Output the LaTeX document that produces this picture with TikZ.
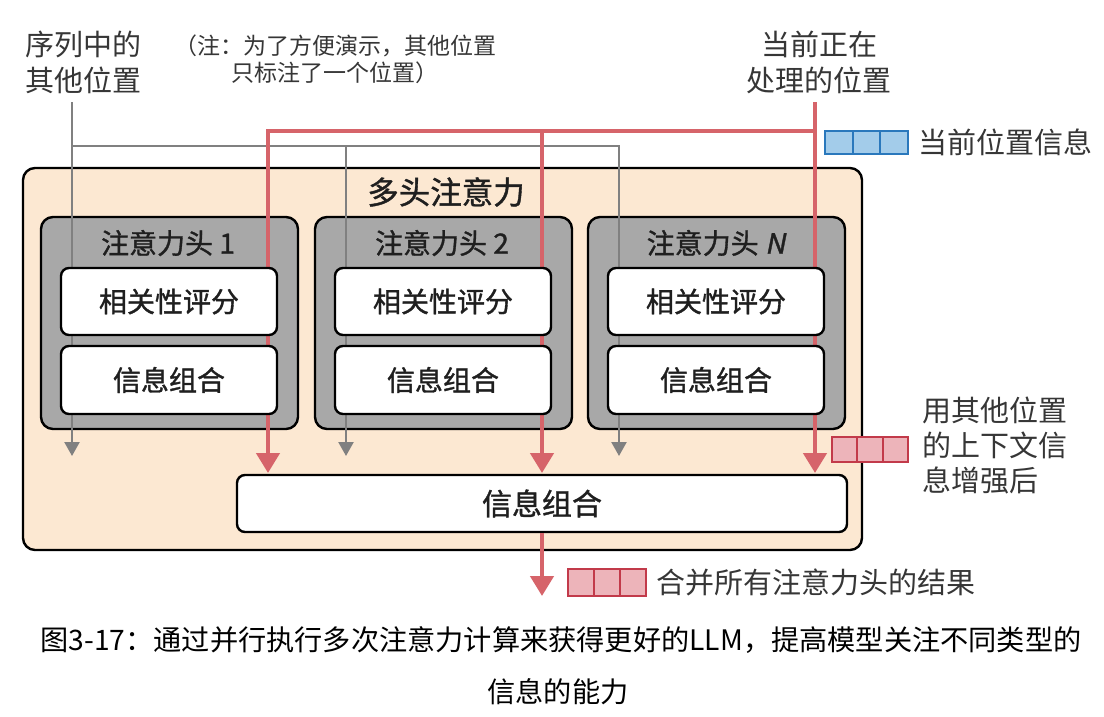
\documentclass[tikz,border=0pt]{standalone}
\usepackage{fontspec}
\setmainfont{Noto Sans CJK SC}
\newfontfamily\medfont[FakeBold=1.2]{Noto Sans CJK SC}
\newfontfamily\slantfont[FakeSlant=0.2,FakeBold=1.2]{Noto Sans CJK SC}
\usetikzlibrary{arrows.meta}
\definecolor{peach}{HTML}{FCE8D2}
\definecolor{headgray}{HTML}{A8A8A8}
\definecolor{redl}{HTML}{D6646A}
\definecolor{grayl}{HTML}{808080}
\definecolor{bluefill}{HTML}{A3CCEA}
\definecolor{blueedge}{HTML}{2A78BC}
\definecolor{redfill}{HTML}{EDB4BA}
\definecolor{rededge}{HTML}{C23A4A}
\definecolor{labelc}{HTML}{363636}
\pgfdeclarelayer{back}
\pgfdeclarelayer{mid}
\pgfsetlayers{back,mid,main}
\tikzset{
  outerbox/.style={draw=black, line width=2.4pt, fill=peach, rounded corners=12pt, inner sep=0pt},
  headbox/.style={draw=black, line width=2.4pt, fill=headgray, rounded corners=12pt, inner sep=0pt, minimum width=257pt, minimum height=212pt},
  whitebox/.style={draw=black, line width=2.4pt, fill=white, rounded corners=8pt, inner sep=0pt, minimum width=216pt, font=\medfont\fontsize{28}{30}\selectfont, text=black!88},
  headtitle/.style={font=\medfont\fontsize{28}{30}\selectfont, text=black!88},
  lab/.style={text=labelc, align=center, inner sep=0pt},
  gline/.style={draw=grayl, line width=2.4pt, -{Triangle[width=15pt,length=14pt]}},
  rline/.style={draw=redl, line width=4.5pt, -{Triangle[width=23pt,length=20pt]}},
  bcell/.style={draw=blueedge, fill=bluefill, line width=2pt},
  rcell/.style={draw=rededge, fill=redfill, line width=2pt},
}
\begin{document}
\begin{tikzpicture}[x=1pt,y=-1pt]
\useasboundingbox (0,0) rectangle (1104,716);
% containers
\begin{pgfonlayer}{back}
\node[outerbox, minimum width=839pt, minimum height=382pt] (outer) at (442.5,359) {};
\node[headbox] (h1) at (169.5,323) {};
\node[headbox] (h2) at (443.5,323) {};
\node[headbox] (h3) at (716.5,323) {};
\end{pgfonlayer}
\node[headtitle, font=\medfont\fontsize{31.5}{33}\selectfont] (t0) at (446,192) {多头注意力};
\node[headtitle] (t1) at (168,243) {注意力头 1};
\node[headtitle] (t2) at (442,243) {注意力头 2};
\node[headtitle] (t3) at (716,243) {注意力头 {\slantfont N}};
% inner boxes
\node[whitebox, minimum height=67pt] (s1) at (169,301.5) {相关性评分};
\node[whitebox, minimum height=67pt] (s2) at (443,301.5) {相关性评分};
\node[whitebox, minimum height=67pt] (s3) at (716,301.5) {相关性评分};
\node[whitebox, minimum height=68pt] (c1) at (169,380) {信息组合};
\node[whitebox, minimum height=68pt] (c2) at (443,380) {信息组合};
\node[whitebox, minimum height=68pt] (c3) at (716,380) {信息组合};
\node[whitebox, minimum width=610pt, minimum height=57pt, font=\medfont\fontsize{30}{32}\selectfont] (bot) at (542,503.5) {信息组合};
% coordinates
\coordinate (gtop) at (72,102);
\coordinate (gj1) at (72,146);
\coordinate (gj2) at (346,146);
\coordinate (gj3) at (619,146);
\coordinate (gt1) at (72,456);
\coordinate (gt2) at (346,456);
\coordinate (gt3) at (619,456);
\coordinate (rtop) at (815,102);
\coordinate (rj3) at (815,131);
\coordinate (rj1) at (268,131);
\coordinate (rj2) at (542,131);
\coordinate (rt1) at (268,473);
\coordinate (rt2) at (542,473);
\coordinate (rt3) at (815,473);
\coordinate (rout) at (542,596);
\begin{pgfonlayer}{mid}
\draw[gline] (gtop) -- (gt1);
\draw[gline] (gj1) -- (gj3) -- (gt3);
\draw[gline] (gj2) -- (gt2);
\draw[rline] (rtop) -- (rt3);
\draw[rline] (rj3) -- (rj1) -- (rt1);
\draw[rline] (rj2) -- (rt2);
\end{pgfonlayer}
\draw[rline] (bot.south) -- (rout);
% top labels
\node[lab, font=\fontsize{29}{36}\selectfont] (other) at (83,62) {序列中的\\其他位置};
\node[lab, font=\fontsize{23}{27}\selectfont] (note) at (335,59) {（注：为了方便演示，其他位置\\只标注了一个位置）};
\node[lab, font=\fontsize{29}{36}\selectfont] (cur) at (819,62) {当前正在\\处理的位置};
% legends
\foreach \i in {0,1,2} {
  \draw[bcell] (825+\i*27.7,131) rectangle ++(27.7,23);
  \draw[rcell] (832+\i*25.3,437) rectangle ++(25.3,25);
  \draw[rcell] (568+\i*26,569) rectangle ++(26,27);
}
\node[lab, anchor=west, font=\fontsize{29}{32}\selectfont] (curinfo) at (918,142) {当前位置信息};
\node[lab, anchor=west, align=left, font=\fontsize{29}{35}\selectfont] (enh) at (922,445) {用其他位置\\的上下文信\\息增强后};
\node[lab, anchor=west, font=\fontsize{29}{32}\selectfont] (merge) at (656,582) {合并所有注意力头的结果};
% caption
\node[lab, text=black, font=\fontsize{28.2}{30}\selectfont] (cap1) at (561,640) {图3-17：通过并行执行多次注意力计算来获得更好的LLM，提高模型关注不同类型的};
\node[lab, text=black, font=\fontsize{28.2}{30}\selectfont] (cap2) at (558,692) {信息的能力};
\end{tikzpicture}
\end{document}
